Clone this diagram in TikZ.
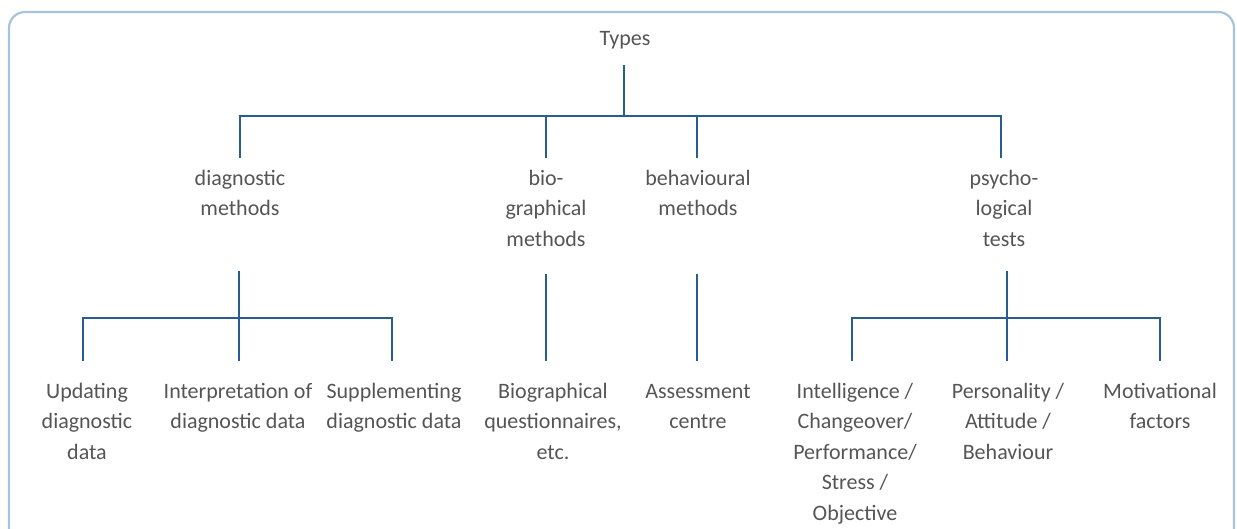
\documentclass[tikz,border=0pt]{standalone}
\usepackage{fontspec}
\setmainfont{Carlito}
\definecolor{framecol}{RGB}{168,196,220}
\definecolor{linkcol}{RGB}{38,94,148}
\definecolor{txtcol}{RGB}{85,85,85}
\begin{document}
\begin{tikzpicture}[x=1pt,y=-1pt,
  % labels are placed by the baseline of their last line
  label/.style={anchor=base,align=center,inner sep=0pt,text=txtcol,
    font=\fontsize{22}{30.5}\selectfont},
  link/.style={draw=linkcol,line width=2.9pt},
  frame/.style={draw=framecol,line width=2.2pt,rounded corners=16pt}]
\useasboundingbox (0,0) rectangle (1237,528);
\draw[frame] (9,12) rectangle (1234,580);

% root
\node[label] (types) at (625,45) {Types};

% first level
\node[label] (diag)  at (240,215.5) {diagnostic\\methods};
\node[label] (bio)   at (546,246) {bio-\\graphical\\methods};
\node[label] (behav) at (698,215.5) {behavioural\\methods};
\node[label] (psych) at (1004,246) {psycho-\\logical\\tests};

% second level
\node[label] (upd)   at (87,459)  {Updating\\diagnostic\\data};
\node[label] (interp) at (238,428.5) {Interpretation of\\diagnostic data};
\node[label] (suppl) at (394,428.5) {Supplementing\\diagnostic data};
\node[label] (bioq)  at (553,459) {Biographical\\questionnaires,\\etc.};
\node[label] (assess) at (698,428.5) {Assessment\\centre};
\node[label] (intel) at (855,520) {Intelligence /\\Changeover/\\Performance/\\Stress /\\Objective};
\node[label] (pers)  at (1008,459) {Personality /\\Attitude /\\Behaviour};
\node[label] (motiv) at (1160,428.5) {Motivational\\factors};

% connector ends
\coordinate (t0) at (624,65);
\coordinate (t1) at (624,116);
\coordinate (busL) at (240,116);
\coordinate (busR) at (1001,116);
\coordinate (dT) at (240,158);
\coordinate (bT) at (546,158);
\coordinate (hT) at (697,158);
\coordinate (pT) at (1001,158);

\coordinate (dB0) at (239,271);
\coordinate (dJ) at (239,318);
\coordinate (bB0) at (546,274);
\coordinate (hB0) at (697,274);
\coordinate (pB0) at (1007,271);
\coordinate (pJ) at (1007,318);

\coordinate (updT) at (83,361);
\coordinate (intT) at (239,361);
\coordinate (supT) at (392,361);
\coordinate (bioT) at (546,361);
\coordinate (assT) at (697,361);
\coordinate (intlT) at (852,361);
\coordinate (persT) at (1007,361);
\coordinate (motT) at (1160,361);

% top bus
\draw[link] (t0) -- (t1);
\draw[link] (dT) |- (busL) -- (busR) -- (pT);
\draw[link] (bT) -- (bT |- busL);
\draw[link] (hT) -- (hT |- busL);

% diagnostic branch
\draw[link] (dB0) -- (intT);
\draw[link] (updT) |- (dJ) -| (supT);

% single branches
\draw[link] (bB0) -- (bioT);
\draw[link] (hB0) -- (assT);

% psychological branch
\draw[link] (pB0) -- (persT);
\draw[link] (intlT) |- (pJ) -| (motT);
\end{tikzpicture}
\end{document}
